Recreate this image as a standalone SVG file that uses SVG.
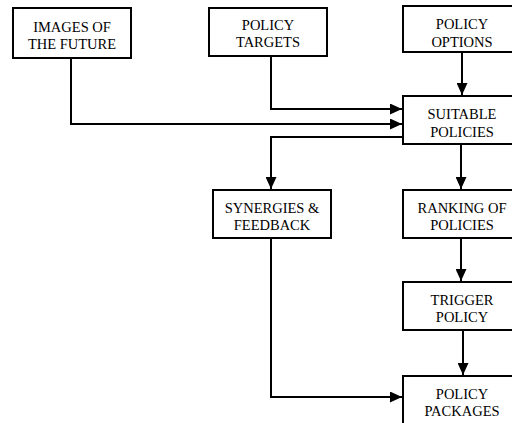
<svg xmlns="http://www.w3.org/2000/svg" width="512" height="423" viewBox="0 0 512 423">
<style>
.box{fill:#fff;stroke:#000;stroke-width:2}
.t{font-family:'Liberation Serif','Times New Roman',serif;font-size:14.5px;fill:#000;text-anchor:middle}
.c{fill:none;stroke:#000;stroke-width:2;marker-end:url(#ah)}
</style>
<defs>
<marker id="ah" markerUnits="userSpaceOnUse" markerWidth="12" markerHeight="11" refX="12" refY="5.5" orient="auto">
<path d="M0,0 L12,5.5 L0,11 z" fill="#000"/>
</marker>
</defs>
<rect width="512" height="423" fill="#fff"/>
<g id="connectors">
<path class="c" d="M71,58 V124 H402"/>
<path class="c" d="M271,56 V109 H402"/>
<path class="c" d="M462,52 V95"/>
<path class="c" d="M403,137 H271 V189"/>
<path class="c" d="M461,144 V189"/>
<path class="c" d="M461,238 V281"/>
<path class="c" d="M463,330 V375"/>
<path class="c" d="M271,238 V397 H402"/>
</g>
<g id="images">
<rect class="box" x="13" y="8" width="118" height="50"/>
<text class="t" x="72" y="32">IMAGES OF</text>
<text class="t" x="72" y="48.5">THE FUTURE</text>
</g>
<g id="targets">
<rect class="box" x="209" y="8" width="118" height="48"/>
<text class="t" x="268" y="29.5">POLICY</text>
<text class="t" x="268" y="47">TARGETS</text>
</g>
<g id="options">
<rect class="box" x="403" y="6" width="118" height="46"/>
<text class="t" x="462" y="28.5">POLICY</text>
<text class="t" x="462" y="46.5">OPTIONS</text>
</g>
<g id="suitable">
<rect class="box" x="403" y="96" width="118" height="48"/>
<text class="t" x="462" y="119">SUITABLE</text>
<text class="t" x="462" y="136.5">POLICIES</text>
</g>
<g id="synergies">
<rect class="box" x="213" y="190" width="118" height="48"/>
<text class="t" x="272" y="213">SYNERGIES &amp;</text>
<text class="t" x="272" y="230">FEEDBACK</text>
</g>
<g id="ranking">
<rect class="box" x="403" y="190" width="118" height="48"/>
<text class="t" x="462" y="213">RANKING OF</text>
<text class="t" x="462" y="230">POLICIES</text>
</g>
<g id="trigger">
<rect class="box" x="403" y="282" width="118" height="48"/>
<text class="t" x="462" y="305">TRIGGER</text>
<text class="t" x="462" y="322">POLICY</text>
</g>
<g id="packages">
<rect class="box" x="403" y="376" width="118" height="60"/>
<text class="t" x="462" y="398.5">POLICY</text>
<text class="t" x="462" y="416">PACKAGES</text>
</g>
</svg>
